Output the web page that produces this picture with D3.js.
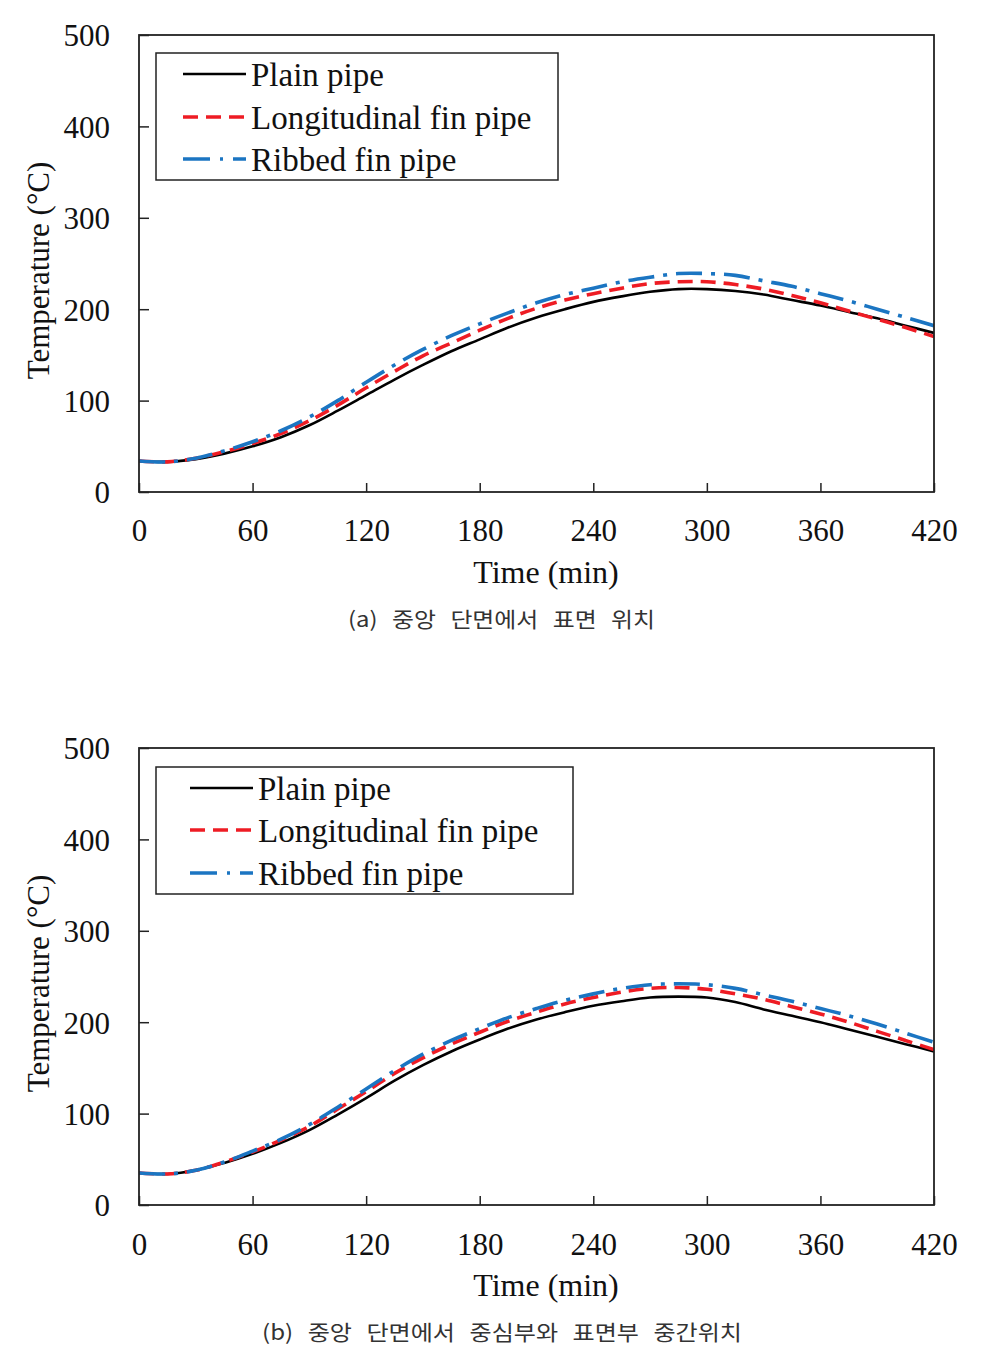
<!DOCTYPE html>
<html>
<head>
<meta charset="utf-8">
<script src="https://cdn.jsdelivr.net/npm/d3@7"></script>
<style>
  html, body { margin: 0; padding: 0; background: #fff; }
  svg { display: block; }
</style>
</head>
<body>
<svg id="chart" width="988" height="1354"></svg>
<script>
// ---------- DATA ----------
const time = [0,15,30,45,60,75,90,105,120,135,150,165,180,195,210,225,240,255,270,285,300,315,330,345,360,375,390,405,420];

const seriesNames = ["Plain pipe", "Longitudinal fin pipe", "Ribbed fin pipe"];

// (a) surface location at central cross-section
const plainA   = [34,33,36,42,50,60,73,89,106,123,139,154,167,180,191,200,208,214,219,222,222,220,216,210,204,197,190,182,174];
const longA    = [34,33,37,44,53,64,78,95,114,132,149,163,177,190,201,210,217,223,228,230,230,227,222,215,207,198,189,180,170];
const ribbedA  = [34,33,37,45,55,67,82,100,120,139,156,171,184,196,207,216,223,230,235,239,239,237,231,225,217,209,200,191,182];

// (b) midway between centre and surface at central cross-section
const plainB   = [35,34,38,46,56,68,82,99,117,136,153,168,181,193,203,211,218,223,227,228,227,222,214,207,200,192,184,176,168];
const longB    = [35,34,38,47,58,71,86,105,124,144,161,176,189,201,211,220,227,233,237,238,236,231,225,217,209,200,190,180,170];
const ribbedB  = [35,34,38,47,59,72,88,107,127,147,165,180,193,205,215,224,231,237,241,242,241,237,230,223,215,207,198,188,178];

const xTicks = [0,60,120,180,240,300,360,420];
const yTicks = [0,100,200,300,400,500];

const captionA = "(a) 중앙 단면에서 표면 위치";
const captionB = "(b) 중앙 단면에서 중심부와 표면부 중간위치";

// ---------- STYLE ----------
const styles = [
  { color: "#000000", width: 2.6, dash: null },
  { color: "#ee1c24", width: 3.6, dash: "15,8" },
  { color: "#1b75c2", width: 3.6, dash: "26,9,4,9" }
];

const svg = d3.select("#chart");
const serif = "'Liberation Serif','Times New Roman',serif";

function drawPanel(cfg) {
  const g = svg.append("g");
  const x = d3.scaleLinear().domain([0, 420]).range([cfg.left, cfg.right]);
  const y = d3.scaleLinear().domain([0, 500]).range([cfg.bottom, cfg.top]);

  const clipId = "clip" + cfg.id;
  svg.append("defs").append("clipPath").attr("id", clipId)
    .append("rect")
    .attr("x", cfg.left).attr("y", cfg.top)
    .attr("width", cfg.right - cfg.left).attr("height", cfg.bottom - cfg.top);

  // series lines
  const line = d3.line().x((d, i) => x(time[i])).y(d => y(d)).curve(d3.curveCatmullRom.alpha(0.5));
  cfg.series.forEach((s, k) => {
    g.append("path")
      .attr("d", line(s))
      .attr("fill", "none")
      .attr("stroke", styles[k].color)
      .attr("stroke-width", styles[k].width)
      .attr("stroke-dasharray", styles[k].dash)
      .attr("clip-path", `url(#${clipId})`);
  });

  // frame
  g.append("rect")
    .attr("x", cfg.left).attr("y", cfg.top)
    .attr("width", cfg.right - cfg.left).attr("height", cfg.bottom - cfg.top)
    .attr("fill", "none").attr("stroke", "#222").attr("stroke-width", 1.8);

  // x axis ticks (inside) + labels
  const xAxis = d3.axisBottom(x).tickValues(xTicks).tickSizeInner(-9).tickSizeOuter(0).tickPadding(0);
  const xa = g.append("g").attr("transform", `translate(0,${cfg.bottom})`).call(xAxis);
  xa.select(".domain").remove();
  xa.selectAll(".tick line").attr("stroke", "#222").attr("stroke-width", 1.5);
  xa.selectAll(".tick text")
    .attr("y", cfg.xLabelY - cfg.bottom).attr("dy", "0.35em")
    .attr("font-family", serif).attr("font-size", 31).attr("fill", "#111");

  // y axis ticks (inside) + labels
  const yAxis = d3.axisLeft(y).tickValues(yTicks).tickSizeInner(-10).tickSizeOuter(0).tickPadding(0);
  const ya = g.append("g").attr("transform", `translate(${cfg.left},0)`).call(yAxis);
  ya.select(".domain").remove();
  ya.selectAll(".tick line").attr("stroke", "#222").attr("stroke-width", 1.5);
  ya.selectAll(".tick text")
    .attr("x", 110 - cfg.left).attr("dy", "0.35em")
    .attr("text-anchor", "end")
    .attr("font-family", serif).attr("font-size", 31).attr("fill", "#111");

  // axis titles
  g.append("text")
    .attr("x", 546).attr("y", cfg.xTitleY).attr("dy", "0.35em")
    .attr("text-anchor", "middle")
    .attr("font-family", serif).attr("font-size", 32).attr("fill", "#111")
    .text("Time (min)");
  g.append("text")
    .attr("transform", `translate(38,${(cfg.top + cfg.bottom) / 2 + 7}) rotate(-90)`)
    .attr("dy", "0.35em")
    .attr("text-anchor", "middle")
    .attr("font-family", serif).attr("font-size", 31).attr("fill", "#111")
    .text("Temperature (°C)");

  // legend
  const L = cfg.legend;
  g.append("rect")
    .attr("x", L.x).attr("y", L.y).attr("width", L.w).attr("height", L.h)
    .attr("fill", "#fff").attr("stroke", "#222").attr("stroke-width", 1.5);
  seriesNames.forEach((name, k) => {
    const ry = L.rows[k];
    g.append("line")
      .attr("x1", L.sx1).attr("x2", L.sx2).attr("y1", ry).attr("y2", ry)
      .attr("stroke", styles[k].color)
      .attr("stroke-width", styles[k].width)
      .attr("stroke-dasharray", k === 1 ? "15,8" : (k === 2 ? "27,10,3,10" : null));
    g.append("text")
      .attr("x", L.tx).attr("y", ry).attr("dy", "0.35em")
      .attr("font-family", serif).attr("font-size", 33).attr("fill", "#111")
      .text(name);
  });

  // caption
  g.append("text")
    .attr("x", cfg.capX).attr("y", cfg.capY).attr("dy", "0.35em")
    .attr("font-family", "'Noto Sans CJK KR','Noto Sans',sans-serif")
    .attr("font-size", 21).attr("fill", "#333")
    .attr("word-spacing", 8)
    .attr("textLength", cfg.capW).attr("lengthAdjust", "spacingAndGlyphs")
    .text(cfg.caption);
}

drawPanel({
  id: "a", left: 139, right: 934, top: 35, bottom: 492,
  xLabelY: 530, xTitleY: 572,
  series: [plainA, longA, ribbedA],
  legend: { x: 156, y: 53, w: 402, h: 127, rows: [74, 117, 159], sx1: 183, sx2: 246, tx: 251 },
  caption: captionA, capX: 348, capY: 620, capW: 307
});

drawPanel({
  id: "b", left: 139, right: 934, top: 748, bottom: 1205,
  xLabelY: 1244, xTitleY: 1285,
  series: [plainB, longB, ribbedB],
  legend: { x: 156, y: 767, w: 417, h: 127, rows: [788, 830, 873], sx1: 190, sx2: 253, tx: 258 },
  caption: captionB, capX: 262, capY: 1333, capW: 480
});
</script>
</body>
</html>
